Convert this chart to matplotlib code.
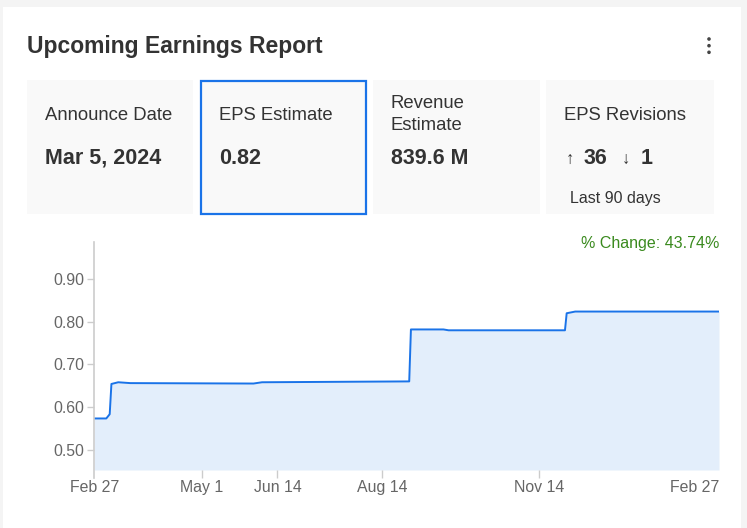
import numpy as np
import pandas as pd
import matplotlib
matplotlib.use('Agg')
import matplotlib.pyplot as plt
from matplotlib.patches import Rectangle, Circle
from matplotlib.lines import Line2D

plt.rcParams['font.family'] = ['Liberation Sans', 'DejaVu Sans']

# EPS estimate history
dates = ['2023-02-27', '2023-03-06', '2023-03-08', '2023-03-09', '2023-03-13',
         '2023-03-20', '2023-05-31', '2023-06-05', '2023-08-30', '2023-08-31',
         '2023-09-19', '2023-09-22', '2023-11-29', '2023-11-30', '2023-12-05',
         '2024-02-27']
eps = [0.573, 0.573, 0.583, 0.654, 0.658, 0.656, 0.655, 0.658, 0.660, 0.782,
       0.782, 0.780, 0.780, 0.820, 0.824, 0.824]

x_ticks = ['2023-02-27', '2023-05-01', '2023-06-14', '2023-08-14', '2023-11-14', '2024-02-27']
x_labels = ['Feb 27', 'May 1', 'Jun 14', 'Aug 14', 'Nov 14', 'Feb 27']
y_ticks = [0.50, 0.60, 0.70, 0.80, 0.90]

card_labels = ['Announce Date', 'EPS Estimate', 'Revenue\nEstimate', 'EPS Revisions']
card_values = ['Mar 5, 2024', '0.82', '839.6 M', '']
revisions_up, revisions_down = '36', '1'
pct_change = '% Change: 43.74%'

W, H = 747, 528
fig = plt.figure(figsize=(W / 100, H / 100), dpi=100)
fig.patch.set_facecolor('#f4f4f4')

# background axes in pixel coordinates (origin top-left)
bg = fig.add_axes([0, 0, 1, 1])
bg.set_xlim(0, W)
bg.set_ylim(H, 0)
bg.axis('off')
bg.add_patch(Rectangle((3, 7), 738, 530, facecolor='white', edgecolor='none'))

bg.text(27, 46.5, 'Upcoming Earnings Report', fontsize=16.5, fontweight='bold',
        color='#333333', va='center', ha='left')
for yy in (39, 45.7, 52.3):
    bg.add_patch(Circle((709, yy), 1.8, facecolor='#444444', edgecolor='none'))

box_x = [27, 201, 373, 546]
box_w = [166, 165, 167, 168]
for i, (bx, bw) in enumerate(zip(box_x, box_w)):
    bg.add_patch(Rectangle((bx, 80), bw, 134, facecolor='#f9f9f9', edgecolor='none'))
    tx = bx + 18
    lines = card_labels[i].split('\n')
    if len(lines) == 2:
        bg.text(tx, 104, lines[0], fontsize=13.3, color='#333333', va='center', ha='left')
        bg.text(tx, 126, lines[1], fontsize=13.3, color='#333333', va='center', ha='left')
    else:
        bg.text(tx, 115, lines[0], fontsize=13.3, color='#333333', va='center', ha='left')
    if card_values[i]:
        bg.text(tx, 158, card_values[i], fontsize=15.5, fontweight='bold',
                color='#333333', va='center', ha='left')
bg.add_patch(Rectangle((201, 81), 165, 133, facecolor='none', edgecolor='#1a73e8', lw=1.6))

# EPS revisions row
bg.text(565.5, 159, '\u2191', fontsize=12, color='#333333', va='center', ha='left')
bg.text(584, 158, revisions_up, fontsize=15.5, fontweight='bold', color='#333333',
        va='center', ha='left')
bg.text(621.5, 159, '\u2193', fontsize=12, color='#333333', va='center', ha='left')
bg.text(641, 158, revisions_down, fontsize=15.5, fontweight='bold', color='#333333',
        va='center', ha='left')
bg.text(570, 198, 'Last 90 days', fontsize=11.5, color='#333333', va='center', ha='left')

bg.text(719, 243.5, pct_change, fontsize=11.5, color='#3a8a1e', va='center', ha='right')

# chart
left, right, top, bottom = 94.3, 719, 241.7, 470
ax = fig.add_axes([left / W, 1 - bottom / H, (right - left) / W, (bottom - top) / H])
ax.patch.set_alpha(0)

d = pd.to_datetime(dates)
ymin, ymax = 0.452, 0.988
ax.fill_between(d, eps, ymin, color='#e3eefb', lw=0)
ax.plot(d, eps, color='#1a73e8', lw=1.4)

ax.set_xlim(pd.Timestamp(x_ticks[0]), pd.Timestamp(x_ticks[-1]))
ax.set_ylim(ymin, ymax)

for s in ax.spines.values():
    s.set_visible(False)
ax.add_line(Line2D([0, 0], [-8 / (bottom - top), 1], transform=ax.transAxes,
                   color='#cccccc', lw=1.2, clip_on=False))

ax.set_yticks(y_ticks)
ax.set_yticklabels(['%.2f' % v for v in y_ticks])
ax.tick_params(axis='y', length=5, width=1, color='#cccccc', pad=2.5,
               labelsize=11.4, labelcolor='#666666')

ax.set_xticks(pd.to_datetime(x_ticks))
ax.set_xticklabels(x_labels)
ax.tick_params(axis='x', length=6, width=1, color='#cccccc', pad=1.5,
               labelsize=11.4, labelcolor='#666666')
xt = ax.xaxis.get_major_ticks()
xt[0].tick1line.set_visible(False)
xt[-1].tick1line.set_visible(False)
xt[-1].label1.set_horizontalalignment('right')

fig.savefig('out.png', dpi=100, facecolor=fig.get_facecolor())
